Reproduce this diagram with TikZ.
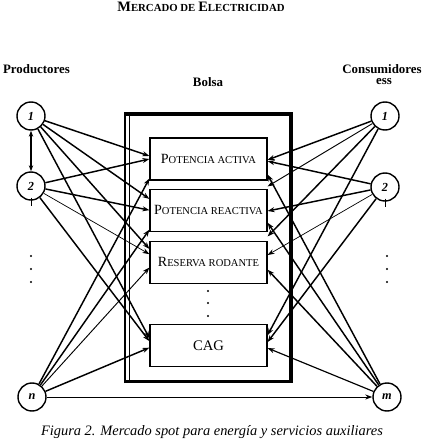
\documentclass[tikz,border=0pt]{standalone}
\usepackage{fontspec}
\setmainfont{Liberation Serif}
\usetikzlibrary{arrows.meta,positioning,calc}
\newcommand{\fakesc}[4]{{\fontsize{#1}{#1}\selectfont #3}{\fontsize{#2}{#1}\selectfont #4}}

\begin{document}
\begin{tikzpicture}[x=0.3mm,y=-0.3mm,
  agent/.style={circle,draw,line width=1.2pt,minimum size=8.4mm,inner sep=0pt,font=\fontsize{10.5}{10.5}\selectfont\bfseries\itshape},
  service/.style={draw,line width=1pt,minimum width=35.1mm,minimum height=12.6mm,inner sep=0pt},
  flow/.style={-{Stealth[length=2.1mm,width=1.5mm]}},
  heading/.style={font=\fontsize{11}{12}\selectfont\bfseries}]
\useasboundingbox (0,0) rectangle (425,443);
\node[font=\bfseries] (title) at (201,7) {\fakesc{12.3}{9.2}{M}{ERCADO DE} \fakesc{12.3}{9.2}{E}{LECTRICIDAD}};
\node[heading] (prod) at (36.5,69) {Productores};
\node[heading] (cons) at (382,69) {Consumidores};
\node[heading] (ess) at (384,82) {ess};
\node[heading] (bolsa) at (208,82) {Bolsa};
% bolsa frame
\draw[line width=1.3pt] (125,383) -- (125,112);
\draw[line width=1.3pt] (129.5,380) -- (129.5,115);
\draw[line width=3.4pt] (124.3,114) -- (291,114) -- (291,381.5) -- (124.3,381.5);
\node[service] (pa) at (208.5,159) {\fakesc{12}{9}{P}{OTENCIA ACTIVA}};
\node[service,below=2.4mm of pa] (pr) {\fakesc{12}{9}{P}{OTENCIA REACTIVA}};
\node[service,below=2.7mm of pr] (rr) {\fakesc{12}{9}{R}{ESERVA RODANTE}};
\node[service] (cag) at (208.5,345.5) {\fontsize{12.5}{13}\selectfont CAG};
\foreach \y in {291,303,316} \fill (208,\y) circle (0.35mm);
% agents
\node[agent] (p1) at (31,116) {1};
\node[agent] (p2) at (31,186) {2};
\node[agent] (pn) at (32,397) {n};
\node[agent] (c1) at (385,116) {1};
\node[agent] (c2) at (385,187) {2};
\node[agent] (cm) at (387,397) {m};
\foreach \y in {256,269,282} {
  \fill (31,\y) circle (0.35mm);
  \fill (387,\y) circle (0.35mm);
}
\draw[line width=0.6pt] (p2.south) ++(0,-3) -- ++(0,8);
\draw[line width=0.6pt] (c2.south) ++(0,-3) -- ++(0,8);
\draw[{Stealth[length=1.8mm,width=1.3mm]}-{Stealth[length=1.8mm,width=1.3mm]},line width=1pt] (p1) -- (p2);
\draw[flow,line width=0.8pt] (pn) -- (cm);
% producers to services
\foreach \src/\dst/\f/\w in {p1/pa/.43/1.25, p1/pr/.24/1.25, p1/rr/.19/1.25, p1/cag/.33/1.25,
    p2/pa/.5/1.25, p2/pr/.5/1.25, p2/rr/.31/0.6, p2/cag/.4/1.25,
    pn/pa/.95/1.25, pn/pr/.95/1.25, pn/rr/.62/0.8, pn/cag/.55/1.25}
  \draw[flow,line width=\w pt] (\src) -- ($(\dst.north west)!\f!(\dst.south west)$);
% consumers to services
\foreach \src/\dst/\f/\w in {c1/pa/.52/1.25, c1/pr/-.05/0.8, c1/rr/-.1/1.25, c1/cag/.26/1.25,
    c2/pa/.55/1.25, c2/pr/.52/1.25, c2/rr/.33/0.6, c2/cag/.42/1.25,
    cm/pa/.86/1.25, cm/pr/.79/1.25, cm/rr/.67/1.25, cm/cag/.56/1}
  \draw[flow,line width=\w pt] (\src) -- ($(\dst.north east)!\f!(\dst.south east)$);
\node[font=\fontsize{12.3}{13}\selectfont\itshape] (caption) at (212,432) {Figura 2. Mercado spot para energía y servicios auxiliares};
\end{tikzpicture}
\end{document}
